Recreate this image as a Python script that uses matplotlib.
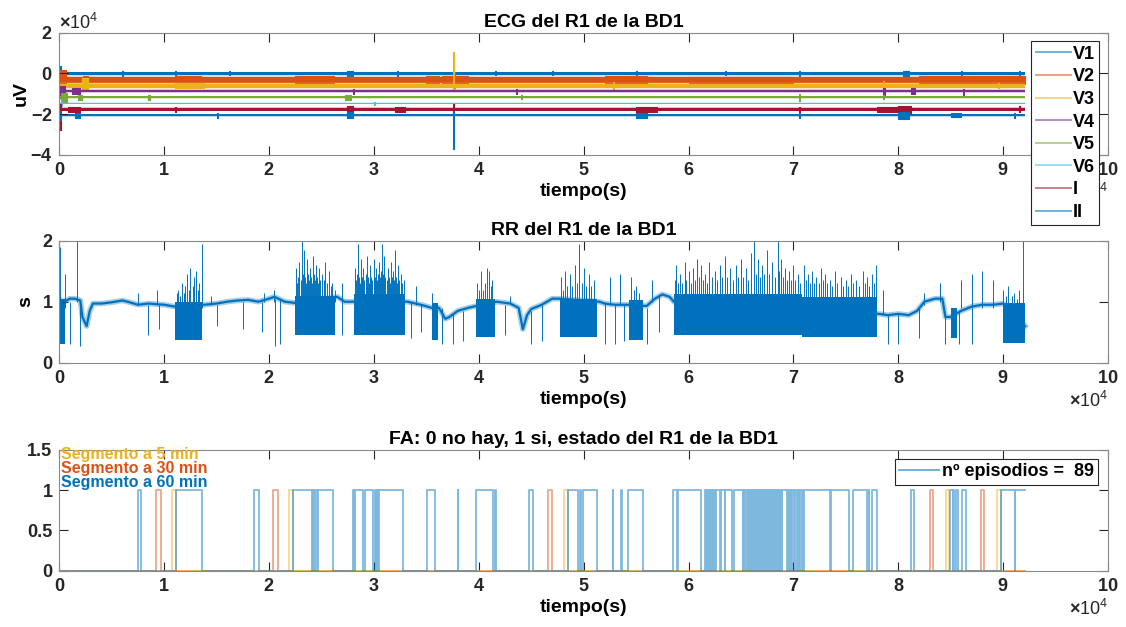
import numpy as np
import matplotlib
matplotlib.use("Agg")
import matplotlib.pyplot as plt
from matplotlib.ticker import ScalarFormatter, MultipleLocator, FuncFormatter
from matplotlib.lines import Line2D

plt.rcParams["font.family"] = ["Liberation Sans", "DejaVu Sans"]
plt.rcParams["font.weight"] = "bold"
plt.rcParams["axes.unicode_minus"] = False
plt.rcParams["mathtext.fontset"] = "custom"
plt.rcParams["mathtext.rm"] = "Liberation Sans"
plt.rcParams["mathtext.it"] = "Liberation Sans"
plt.rcParams["mathtext.bf"] = "Liberation Sans:bold"

# ---------------------------------------------------------------- data
T_UNIT = 1e4          # time values are given in units of 10^4 s
T_END = 9.21          # end of the recording

# ECG leads: baseline (uV) and half thickness of the trace band (uV)
ecg_leads = ["V1", "V2", "V3", "V4", "V5", "V6", "I", "II"]
ecg_colors = ["#0072BD", "#D95319", "#EDB120", "#7E2F8E",
              "#77AC30", "#4DBEEE", "#A2142F", "#0072BD"]
ecg_base = [0, -3300, -6000, -8700, -11800, -14700, -17700, -20600]
ecg_half = [600, 1500, 1000, 700, 500, 330, 650, 550]

# artefacts / noisy bursts per lead: (t_start, t_end, low uV, high uV)
bursts_V1 = [(0.00, 0.02, -2000, 3500), (0.60, 0.61, -1100, 1100),
             (1.10, 1.11, -1000, 1300), (1.62, 1.63, -1000, 1000),
             (2.74, 2.80, -1400, 1300), (3.22, 3.23, -1100, 1100),
             (4.15, 4.16, -1000, 1000), (4.70, 4.71, -1000, 1000),
             (5.50, 5.51, -1000, 1300), (6.35, 6.36, -1000, 1100),
             (7.05, 7.06, -1100, 1300), (8.05, 8.10, -1300, 1200),
             (8.60, 8.61, -1000, 1000), (9.15, 9.16, -1000, 1000)]
bursts_V2 = [(0.00, 0.06, -6500, 1500), (0.23, 0.27, -6000, -1500),
             (1.10, 1.35, -5200, -1400), (2.25, 2.62, -5200, -1400),
             (3.50, 3.62, -5200, -1400), (3.65, 3.90, -5100, -1500),
             (5.20, 5.60, -5100, -1500), (6.00, 7.00, -5000, -1600),
             (8.20, 9.21, -5100, -1500), (3.76, 3.77, -7000, 500)]
bursts_V3 = [(0.22, 0.27, -7500, -2500), (3.755, 3.762, -7500, 10500),
             (7.85, 7.86, -7800, -3800), (1.10, 1.38, -7300, -4700),
             (5.28, 5.29, -7500, -4500), (8.95, 8.96, -7400, -4600)]
bursts_V4 = [(0.00, 0.05, -12000, -6000), (0.12, 0.20, -10200, -7300),
             (2.80, 2.81, -10000, -7500), (7.85, 7.87, -10800, -7000),
             (8.12, 8.16, -10300, -7400), (8.62, 8.63, -10500, -7600),
             (4.35, 4.36, -10000, -7500)]
bursts_V5 = [(0.02, 0.07, -14500, -9500), (0.18, 0.22, -13000, -10600),
             (0.85, 0.86, -13000, -10500), (2.72, 2.78, -13000, -10500),
             (7.05, 7.06, -13500, -10300), (4.40, 4.41, -12800, -10800),
             (7.85, 7.86, -12800, -10800)]
bursts_V6 = [(0.02, 0.03, -16000, -13500), (3.00, 3.01, -15500, -14000)]
bursts_I = [(0.00, 0.02, -28000, -15000), (0.08, 0.20, -19000, -16500),
            (1.10, 1.11, -18900, -16500), (2.74, 2.80, -19200, -16300),
            (3.20, 3.30, -18900, -16600), (3.755, 3.765, -19500, -15000),
            (5.50, 5.70, -18900, -16600), (7.05, 7.06, -19000, -16400),
            (7.80, 8.00, -18900, -16500), (8.00, 8.12, -19400, -16100),
            (9.15, 9.16, -19000, -16300)]
bursts_II = [(0.00, 0.02, -23000, -18500), (0.15, 0.20, -21900, -19400),
             (1.50, 1.51, -21800, -19500), (2.74, 2.80, -22200, -19200),
             (3.758, 3.764, -37000, -18500), (5.50, 5.60, -21900, -19400),
             (7.05, 7.06, -21900, -19400), (8.00, 8.10, -22600, -19000),
             (8.50, 8.60, -21700, -19500), (9.10, 9.11, -21800, -19500)]
ecg_bursts = [bursts_V1, bursts_V2, bursts_V3, bursts_V4,
              bursts_V5, bursts_V6, bursts_I, bursts_II]

# RR series: slow trend (t, s)
rr_trend_t = [0.00, 0.02, 0.07, 0.10, 0.15, 0.20, 0.22, 0.26, 0.29, 0.32, 0.40,
              0.50, 0.60, 0.65, 0.75, 0.85, 1.00, 1.10, 1.38, 1.50, 1.60, 1.70,
              1.80, 1.90, 2.00, 2.05, 2.15, 2.25, 2.65, 2.72, 2.80, 3.32, 3.45,
              3.55, 3.62, 3.68, 3.72, 3.80, 3.90, 3.95, 4.17, 4.30, 4.38, 4.42,
              4.46, 4.50, 4.60, 4.70, 4.77, 5.15, 5.20, 5.30, 5.42, 5.60, 5.68,
              5.75, 5.82, 5.86, 7.82, 7.90, 8.00, 8.10, 8.18, 8.25, 8.35, 8.42,
              8.45, 8.50, 8.60, 8.70, 8.80, 8.90, 9.00, 9.21]
rr_trend_v = [1.05, 1.00, 1.02, 1.05, 1.05, 1.02, 0.75, 0.60, 0.85, 0.97, 0.97,
              0.99, 1.02, 1.00, 0.95, 0.97, 0.95, 0.92, 0.95, 0.97, 1.00, 1.02,
              1.03, 1.00, 1.05, 1.08, 1.00, 0.98, 1.08, 1.00, 1.00, 1.00, 0.95,
              0.90, 0.90, 0.72, 0.75, 0.85, 0.90, 0.92, 1.00, 0.97, 0.90, 0.55,
              0.78, 0.88, 0.95, 1.05, 1.05, 1.00, 0.97, 0.95, 0.95, 0.93, 1.05,
              1.12, 1.08, 1.00, 0.80, 0.78, 0.80, 0.78, 0.85, 1.00, 1.05, 1.05,
              0.75, 0.75, 0.85, 0.92, 0.95, 0.95, 0.97, 0.60]

# irregular (AF) stretches: dense band between low and high
rr_af_start = [0.00, 1.10, 2.25, 2.81, 3.55, 3.97, 4.77, 5.43, 5.86, 7.08, 8.50, 9.00]
rr_af_end = [0.05, 1.36, 2.63, 3.30, 3.61, 4.15, 5.13, 5.57, 7.08, 7.80, 8.56, 9.21]
rr_af_low = [0.30, 0.38, 0.45, 0.45, 0.38, 0.42, 0.42, 0.37, 0.45, 0.42, 0.40, 0.33]
rr_af_high = [1.05, 1.00, 1.10, 1.12, 0.98, 1.05, 1.05, 1.02, 1.12, 1.08, 0.90, 0.98]

# isolated long / short beats and streaks: (t, low, high)
rr_spikes = [(0.01, 0.9, 1.90), (0.17, 1.0, 2.00), (0.05, 0.9, 1.45),
             (0.93, 0.95, 1.20), (0.75, 0.95, 1.15), (1.45, 0.95, 1.10),
             (1.12, 0.9, 1.15), (1.13, 0.9, 1.20), (1.15, 0.9, 1.10),
             (1.17, 0.9, 1.30), (1.19, 0.9, 1.15), (1.20, 0.9, 1.25),
             (1.22, 0.9, 1.45), (1.24, 0.9, 1.20), (1.25, 0.9, 1.55),
             (1.27, 0.9, 1.25), (1.28, 0.9, 1.40), (1.30, 0.9, 1.50),
             (1.32, 0.9, 1.20), (1.33, 0.9, 1.30), (1.36, 0.9, 1.95),
             (1.95, 1.0, 1.15), (2.05, 1.0, 1.20), (2.26, 1.0, 1.55),
             (2.27, 1.0, 1.30), (2.28, 1.0, 1.40), (2.29, 1.0, 1.65),
             (2.30, 1.0, 1.35), (2.31, 1.0, 2.00), (2.32, 1.0, 1.45),
             (2.33, 1.0, 1.85), (2.34, 1.0, 1.40), (2.35, 1.0, 1.30),
             (2.36, 1.0, 1.70), (2.37, 1.0, 1.45), (2.38, 1.0, 1.35),
             (2.39, 1.0, 1.55), (2.40, 1.0, 1.40), (2.41, 1.0, 1.30),
             (2.42, 1.0, 1.75), (2.43, 1.0, 1.45), (2.44, 1.0, 1.35),
             (2.45, 1.0, 1.60), (2.46, 1.0, 1.40), (2.47, 1.0, 1.30),
             (2.48, 1.0, 1.55), (2.49, 1.0, 1.35), (2.50, 1.0, 1.45),
             (2.52, 1.0, 1.35), (2.53, 1.0, 1.65), (2.55, 1.0, 1.30),
             (2.57, 1.0, 1.50), (2.59, 1.0, 1.25), (2.60, 1.0, 1.30),
             (2.63, 1.0, 1.20), (2.70, 1.0, 1.30), (2.82, 1.0, 1.55),
             (2.83, 1.0, 1.35), (2.84, 1.0, 1.45), (2.85, 1.0, 1.95),
             (2.86, 1.0, 1.40), (2.87, 1.0, 1.30), (2.88, 1.0, 1.70),
             (2.89, 1.0, 1.40), (2.90, 1.0, 1.55), (2.91, 1.0, 1.35),
             (2.92, 1.0, 1.45), (2.93, 1.0, 1.75), (2.94, 1.0, 1.40),
             (2.95, 1.0, 1.30), (2.96, 1.0, 1.60), (2.97, 1.0, 1.40),
             (2.98, 1.0, 1.35), (3.00, 1.0, 1.70), (3.01, 1.0, 1.40),
             (3.02, 1.0, 1.55), (3.03, 1.0, 1.35), (3.04, 1.0, 1.45),
             (3.05, 1.0, 1.65), (3.06, 1.0, 1.40), (3.07, 1.0, 1.50),
             (3.08, 1.0, 1.95), (3.09, 1.0, 1.45), (3.10, 1.0, 1.75),
             (3.11, 1.0, 1.40), (3.12, 1.0, 1.35), (3.13, 1.0, 1.55),
             (3.14, 1.0, 1.40), (3.15, 1.0, 1.30), (3.16, 1.0, 1.65),
             (3.17, 1.0, 1.40), (3.18, 1.0, 1.50), (3.19, 1.0, 1.35),
             (3.20, 1.0, 1.85), (3.21, 1.0, 1.40), (3.22, 1.0, 1.30),
             (3.23, 1.0, 1.60), (3.24, 1.0, 1.35), (3.26, 1.0, 1.45),
             (3.27, 1.0, 1.30), (3.29, 1.0, 1.35), (3.40, 0.95, 1.25),
             (3.55, 0.9, 1.15), (3.98, 1.0, 1.30), (4.00, 1.0, 1.20),
             (4.02, 1.0, 1.50), (4.04, 1.0, 1.20), (4.06, 1.0, 1.30),
             (4.08, 1.0, 1.55), (4.10, 1.0, 1.50), (4.12, 1.0, 1.25),
             (4.13, 1.0, 1.35), (4.30, 0.97, 1.10), (4.78, 1.0, 1.40),
             (4.80, 1.0, 1.20), (4.82, 1.0, 1.50), (4.84, 1.0, 1.25),
             (4.87, 1.0, 1.45), (4.89, 1.0, 1.25), (4.92, 1.0, 1.60),
             (4.94, 1.0, 1.30), (4.96, 1.0, 1.95), (4.98, 1.0, 1.30),
             (5.00, 1.0, 1.55), (5.02, 1.0, 1.25), (5.05, 1.0, 1.45),
             (5.07, 1.0, 1.25), (5.10, 1.0, 1.35), (5.25, 0.95, 1.40),
             (5.35, 0.95, 1.45), (5.45, 1.0, 1.40), (5.48, 1.0, 1.20),
             (5.50, 1.0, 1.25), (5.53, 1.0, 1.15), (5.65, 1.0, 1.35),
             (5.87, 1.0, 1.35), (5.88, 1.0, 1.60), (5.90, 1.0, 1.30),
             (5.92, 1.0, 1.45), (5.94, 1.0, 1.30), (5.97, 1.0, 1.65),
             (5.98, 1.0, 1.35), (6.00, 1.0, 1.50), (6.02, 1.0, 1.30),
             (6.04, 1.0, 1.55), (6.06, 1.0, 1.35), (6.08, 1.0, 1.70),
             (6.10, 1.0, 1.40), (6.12, 1.0, 1.60), (6.14, 1.0, 1.35),
             (6.16, 1.0, 1.45), (6.18, 1.0, 1.30), (6.20, 1.0, 1.65),
             (6.22, 1.0, 1.40), (6.25, 1.0, 1.50), (6.27, 1.0, 1.35),
             (6.30, 1.0, 1.60), (6.32, 1.0, 1.40), (6.35, 1.0, 1.75),
             (6.37, 1.0, 1.40), (6.40, 1.0, 1.55), (6.42, 1.0, 1.35),
             (6.45, 1.0, 1.60), (6.47, 1.0, 1.40), (6.50, 1.0, 1.70),
             (6.52, 1.0, 1.40), (6.55, 1.0, 1.55), (6.57, 1.0, 1.35),
             (6.60, 1.0, 1.80), (6.62, 1.0, 2.00), (6.64, 1.0, 1.45),
             (6.66, 1.0, 1.70), (6.68, 1.0, 1.40), (6.70, 1.0, 1.60),
             (6.72, 1.0, 1.45), (6.75, 1.0, 1.85), (6.77, 1.0, 1.45),
             (6.80, 1.0, 1.65), (6.82, 1.0, 1.40), (6.85, 1.0, 2.00),
             (6.86, 1.0, 1.50), (6.88, 1.0, 1.70), (6.90, 1.0, 1.40),
             (6.92, 1.0, 1.55), (6.94, 1.0, 1.35), (6.96, 1.0, 1.50),
             (6.98, 1.0, 1.35), (7.00, 1.0, 1.60), (7.02, 1.0, 1.35),
             (7.04, 1.0, 1.45), (7.06, 1.0, 1.30), (7.10, 1.0, 1.60),
             (7.12, 1.0, 1.35), (7.14, 1.0, 1.45), (7.16, 1.0, 1.30),
             (7.18, 1.0, 1.50), (7.20, 1.0, 1.30), (7.22, 1.0, 1.40),
             (7.24, 1.0, 1.30), (7.26, 1.0, 1.55), (7.28, 1.0, 1.35),
             (7.30, 1.0, 1.45), (7.32, 1.0, 1.30), (7.35, 1.0, 1.35),
             (7.37, 1.0, 1.25), (7.40, 1.0, 1.50), (7.42, 1.0, 1.30),
             (7.45, 1.0, 1.40), (7.47, 1.0, 1.25), (7.50, 1.0, 1.35),
             (7.52, 1.0, 1.25), (7.55, 1.0, 1.45), (7.57, 1.0, 1.30),
             (7.60, 1.0, 1.35), (7.63, 1.0, 1.25), (7.66, 1.0, 1.50),
             (7.68, 1.0, 1.30), (7.70, 1.0, 1.40), (7.72, 1.0, 1.25),
             (7.75, 1.0, 1.45), (7.77, 1.0, 1.30), (7.79, 1.0, 1.60),
             (7.85, 0.8, 1.20), (8.25, 0.95, 1.15), (8.40, 1.0, 1.30),
             (8.60, 0.9, 1.35), (8.70, 0.9, 1.45), (8.80, 0.9, 1.50),
             (8.90, 0.9, 1.35), (9.00, 0.9, 1.20), (9.03, 0.9, 1.10),
             (9.05, 0.9, 1.25), (9.08, 0.9, 1.10), (9.10, 0.9, 1.15),
             (9.13, 0.9, 1.05), (9.15, 0.9, 1.20), (9.19, 0.9, 2.00),
             (0.10, 0.30, 1.00), (0.20, 0.28, 1.00), (0.85, 0.45, 0.95),
             (0.95, 0.55, 0.95), (1.50, 0.60, 0.95), (1.75, 0.55, 1.00),
             (1.93, 0.50, 1.00), (2.06, 0.28, 1.05), (2.10, 0.30, 1.05),
             (2.70, 0.45, 1.05), (3.35, 0.40, 1.00), (3.45, 0.50, 0.95),
             (3.65, 0.30, 0.90), (3.75, 0.30, 0.80), (3.85, 0.35, 0.85),
             (4.25, 0.45, 0.95), (4.50, 0.30, 0.85), (4.60, 0.35, 0.95),
             (5.20, 0.30, 1.00), (5.30, 0.30, 0.95), (5.38, 0.35, 0.95),
             (5.60, 0.30, 0.90), (5.72, 0.50, 1.10), (7.90, 0.30, 0.80),
             (8.00, 0.30, 0.80), (8.20, 0.40, 0.90), (8.45, 0.30, 0.80),
             (8.58, 0.30, 0.85), (8.70, 0.30, 0.90)]

# AF episodes (t_start, t_end) for each segment length
fa_60min = [(0.747, 0.779), (1.115, 1.358), (1.857, 1.904), (2.226, 2.410),
            (2.416, 2.428), (2.440, 2.455), (2.470, 2.613), (2.804, 2.810),
            (2.815, 2.893), (2.912, 2.994), (3.013, 3.020), (3.030, 3.040),
            (3.051, 3.274), (3.509, 3.585), (3.800, 3.805), (3.970, 4.138),
            (4.155, 4.160), (4.482, 4.514), (4.854, 4.949), (4.965, 4.975),
            (4.995, 5.124), (5.277, 5.282), (5.360, 5.366), (5.426, 5.563),
            (5.855, 5.887), (5.903, 6.116), (6.157, 6.164), (6.170, 6.178),
            (6.184, 6.192), (6.198, 6.206), (6.212, 6.220), (6.226, 6.234),
            (6.240, 6.253), (6.262, 6.300), (6.307, 6.348),
            (6.352, 6.418), (6.437, 6.517), (6.522, 6.530), (6.537, 6.555),
            (6.564, 6.573), (6.579, 6.590), (6.596, 6.606), (6.612, 6.622),
            (6.628, 6.638), (6.644, 6.655), (6.661, 6.671), (6.677, 6.688),
            (6.694, 6.704), (6.710, 6.720), (6.726, 6.737), (6.743, 6.753),
            (6.759, 6.770), (6.776, 6.786), (6.792, 6.802), (6.808, 6.819),
            (6.825, 6.835), (6.841, 6.851), (6.857, 6.868), (6.874, 6.889),
            (6.895, 6.936), (6.945, 6.960), (6.968, 6.980), (6.990, 7.005),
            (7.012, 7.030), (7.040, 7.055), (7.065, 7.080), (7.088, 7.095),
            (7.104, 7.349), (7.356, 7.534), (7.572, 7.699), (7.718, 7.722),
            (7.747, 7.794), (8.121, 8.153), (8.493, 8.519), (8.523, 8.532),
            (8.554, 8.566), (8.611, 8.643), (8.977, 9.113), (9.113, None)]
fa_30min = [(0.922, 0.967), (2.035, 2.083), (4.663, 4.695),
            (8.303, 8.334), (8.789, 8.821)]
fa_5min = [(1.078, 1.110), (2.193, 2.226), (4.816, 4.848),
           (8.452, 8.484), (8.945, 8.977)]

C_BLUE, C_ORANGE, C_YELLOW = "#0072BD", "#D95319", "#EDB120"
TICK_COLOR = "#262626"
EDGE_COLOR = "#8a8a8a"

# ---------------------------------------------------------------- figure
fig = plt.figure(figsize=(11.26, 6.27), dpi=100)
L, W, H = 0.0527, 0.9313, 0.1946
ax1 = fig.add_axes([L, 0.7533, W, H])
ax2 = fig.add_axes([L, 0.4215, W, H])
ax3 = fig.add_axes([L, 0.0898, W, 0.1925])


def sci_formatter():
    fmt = ScalarFormatter(useMathText=True)
    fmt.set_powerlimits((4, 4))
    return fmt


def style(ax):
    for sp in ax.spines.values():
        sp.set_color(EDGE_COLOR)
        sp.set_linewidth(0.8)
    ax.tick_params(direction="in", top=True, right=True, length=6.5,
                   width=0.8, color=TICK_COLOR, labelsize=13,
                   labelcolor=TICK_COLOR, pad=5)
    ax.set_xlim(0, 10 * T_UNIT)
    ax.xaxis.set_major_locator(MultipleLocator(T_UNIT))
    ax.xaxis.set_major_formatter(sci_formatter())
    off = ax.xaxis.get_offset_text()
    off.set_fontsize(13)
    off.set_fontweight("normal")
    off.set_color(TICK_COLOR)
    ax.set_xlabel("tiempo(s)", fontsize=14, fontweight="bold", labelpad=3)


def step_xy(episodes):
    xs, ys = [0.0], [0.0]
    for s, e in episodes:
        xs += [s, s]
        ys += [0, 1]
        if e is not None:
            xs += [e, e]
            ys += [1, 0]
    xs.append(T_END)
    ys.append(1 if episodes[-1][1] is None else 0)
    return np.array(xs) * T_UNIT, np.array(ys)


# ---- ECG
style(ax1)
t_full = np.array([0, T_END]) * T_UNIT
for name, col, base, hw, bl in zip(ecg_leads, ecg_colors, ecg_base,
                                    ecg_half, ecg_bursts):
    ax1.fill_between(t_full, base - 1.5 * hw, base + 1.5 * hw, color=col,
                     lw=0, alpha=0.25)
    ax1.fill_between(t_full, base - hw, base + hw, color=col, lw=0)
    for t0, t1, lo, hi in bl:
        ax1.fill_between(np.array([t0, t1]) * T_UNIT, lo, hi, color=col,
                         lw=0.8, edgecolor=col)
ax1.set_ylim(-4e4, 2e4)
ax1.yaxis.set_major_locator(MultipleLocator(2e4))
ax1.yaxis.set_major_formatter(sci_formatter())
yoff = ax1.yaxis.get_offset_text()
yoff.set_fontsize(13)
yoff.set_fontweight("normal")
yoff.set_color(TICK_COLOR)
ax1.set_ylabel("uV", fontsize=14, fontweight="bold")
ax1.yaxis.set_label_coords(-0.028, 0.5)
ax1.set_title("ECG del R1 de la BD1", fontsize=14, fontweight="bold", pad=4)
handles = [Line2D([], [], color=c, lw=1.4, alpha=0.55) for c in ecg_colors]
leg1 = ax1.legend(handles, ecg_leads, loc="upper left",
                  bbox_to_anchor=(0.9266, 0.9295), borderaxespad=0,
                  fancybox=False, framealpha=1, edgecolor=TICK_COLOR,
                  fontsize=13, handlelength=1.95, handletextpad=0.1,
                  labelspacing=0.31, borderpad=0.25)
leg1.get_frame().set_linewidth(0.8)

# ---- RR
style(ax2)
rr_t = np.array(rr_trend_t) * T_UNIT
ax2.plot(rr_t, rr_trend_v, color=C_BLUE, lw=4.0, alpha=0.35)
ax2.plot(rr_t, rr_trend_v, color=C_BLUE, lw=1.6)
for s, e, lo, hi in zip(rr_af_start, rr_af_end, rr_af_low, rr_af_high):
    ax2.fill_between(np.array([s, e]) * T_UNIT, lo, hi, color=C_BLUE, lw=0)
sp = np.array(rr_spikes)
ax2.vlines(sp[:, 0] * T_UNIT, sp[:, 1], sp[:, 2], color=C_BLUE, lw=0.7)
ax2.set_ylim(0, 2)
ax2.yaxis.set_major_locator(MultipleLocator(1))
ax2.set_ylabel("s", fontsize=14, fontweight="bold")
ax2.yaxis.set_label_coords(-0.024, 0.5)
ax2.set_title("RR del R1 de la BD1", fontsize=14, fontweight="bold", pad=4)

# ---- AF state
style(ax3)
n_episodios = len(fa_60min) + len(fa_30min) + len(fa_5min)
x60, y60 = step_xy(fa_60min)
x30, y30 = step_xy(fa_30min)
x5, y5 = step_xy(fa_5min)
ax3.plot(x30, y30, color=C_ORANGE, lw=1.3, alpha=0.5)
ax3.plot(x5, y5, color=C_YELLOW, lw=1.3, alpha=0.5)
ax3.plot(x60, y60, color=C_BLUE, lw=1.3, alpha=0.5)
ax3.set_ylim(0, 1.5)
ax3.yaxis.set_major_locator(MultipleLocator(0.5))
ax3.yaxis.set_major_formatter(FuncFormatter(lambda v, p: f"{v:g}"))
ax3.set_title("FA: 0 no hay, 1 si, estado del R1 de la BD1", fontsize=14,
              fontweight="bold", pad=4)
ax3.text(120, 1.44, "Segmento a 5 min", color=C_YELLOW, fontsize=11.5,
         va="center", ha="left")
ax3.text(120, 1.27, "Segmento a 30 min", color=C_ORANGE, fontsize=11.5,
         va="center", ha="left")
ax3.text(120, 1.10, "Segmento a 60 min", color=C_BLUE, fontsize=11.5,
         va="center", ha="left")
leg3 = ax3.legend([Line2D([], [], color=C_BLUE, lw=1.4, alpha=0.55)],
                  [f"nº episodios =  {n_episodios}"], loc="upper right",
                  bbox_to_anchor=(0.9907, 0.928), borderaxespad=0,
                  fancybox=False, framealpha=1, edgecolor=TICK_COLOR,
                  fontsize=13, handlelength=2.2, handletextpad=0.15,
                  borderpad=0.25)
leg3.get_frame().set_linewidth(0.8)

fig.savefig("out.png", dpi=100, facecolor="white")
